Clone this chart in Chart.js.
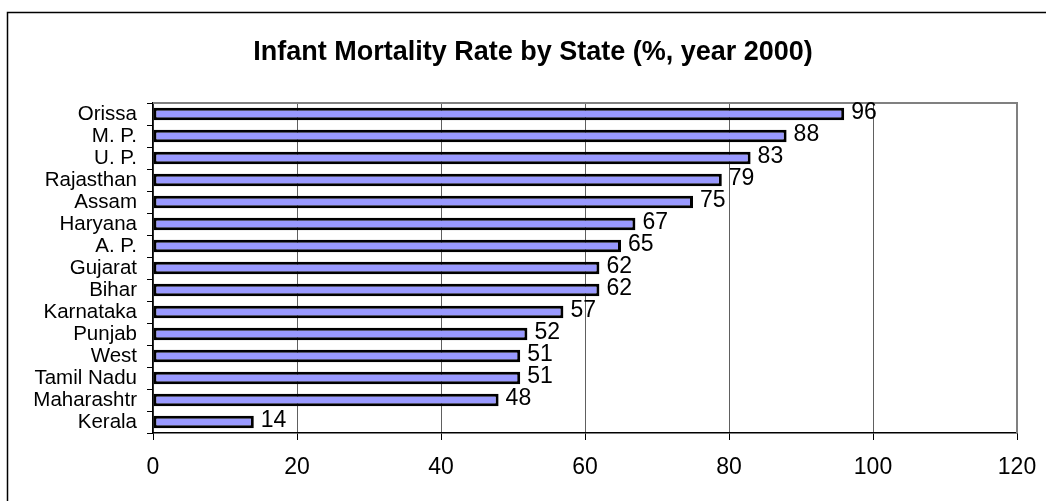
<!DOCTYPE html>
<html>
<head>
<meta charset="utf-8">
<script src="https://cdn.jsdelivr.net/npm/chart.js@4/dist/chart.umd.min.js"></script>
<style>
  html, body { margin: 0; padding: 0; background: #fff; }
  #wrap { width: 1046px; height: 501px; position: relative; }
</style>
</head>
<body>
<div id="wrap"><canvas id="c" width="1046" height="501"></canvas></div>
<script>
const chartTitle = 'Infant Mortality Rate by State (%, year 2000)';
const states = ['Orissa', 'M. P.', 'U. P.', 'Rajasthan', 'Assam', 'Haryana', 'A. P.', 'Gujarat',
                'Bihar', 'Karnataka', 'Punjab', 'West', 'Tamil Nadu', 'Maharashtr', 'Kerala'];
const rates = [96, 88, 83, 79, 75, 67, 65, 62, 62, 57, 52, 51, 51, 48, 14];
const xTicks = [0, 20, 40, 60, 80, 100, 120];

const FONT = '"Liberation Sans", Arial, sans-serif';

// Outer frame, title, plot-area outline and value labels
const decor = {
  id: 'decor',
  beforeDatasetsDraw(chart) {
    const { ctx, chartArea: a } = chart;
    ctx.save();
    ctx.strokeStyle = '#808080';
    ctx.lineWidth = 2;
    ctx.beginPath();
    ctx.moveTo(a.left, a.top);
    ctx.lineTo(a.right, a.top);
    ctx.lineTo(a.right, a.bottom);
    ctx.stroke();
    ctx.restore();
  },
  afterDraw(chart) {
    const { ctx } = chart;
    ctx.save();
    // frame
    ctx.strokeStyle = '#000';
    ctx.lineWidth = 1.5;
    ctx.beginPath();
    ctx.moveTo(7.5, 501);
    ctx.lineTo(7.5, 12.5);
    ctx.lineTo(1046, 12.5);
    ctx.stroke();
    // title
    ctx.fillStyle = '#000';
    ctx.font = 'bold 27px ' + FONT;
    ctx.textAlign = 'center';
    ctx.textBaseline = 'middle';
    ctx.fillText(chartTitle, 533, 53);
    // value labels
    ctx.font = '23px ' + FONT;
    ctx.textAlign = 'left';
    const meta = chart.getDatasetMeta(0);
    meta.data.forEach((bar, i) => {
      ctx.fillText(String(rates[i]), bar.x + 7, bar.y - 1);
    });
    ctx.restore();
  }
};

new Chart(document.getElementById('c'), {
  type: 'bar',
  data: {
    labels: states,
    datasets: [{
      data: rates,
      backgroundColor: '#9999ff',
      borderColor: '#000',
      borderWidth: 3,
      borderSkipped: false,
      categoryPercentage: 1,
      barPercentage: 0.56
    }]
  },
  options: {
    indexAxis: 'y',
    responsive: false,
    animation: false,
    devicePixelRatio: 1,
    layout: { padding: { top: 103, right: 29, left: 0, bottom: 0 } },
    plugins: { legend: { display: false }, tooltip: { enabled: false }, title: { display: false } },
    scales: {
      x: {
        min: 0, max: 120,
        afterBuildTicks(scale) { scale.ticks = xTicks.map(v => ({ value: v })); },
        afterFit(scale) { scale.height = 68; scale.paddingLeft = 0; scale.paddingRight = 0; },
        grid: { color: '#606060', lineWidth: 1, tickLength: 7, tickColor: '#000' },
        border: { color: '#000', width: 1.5 },
        ticks: { color: '#000', font: { family: FONT, size: 23 }, padding: 14, maxRotation: 0 }
      },
      y: {
        afterFit(scale) { scale.width = 153; scale.paddingTop = 0; scale.paddingBottom = 0; },
        grid: { drawOnChartArea: false, tickLength: 6, tickColor: '#000', offset: true },
        border: { color: '#000', width: 1.5 },
        ticks: { color: '#000', font: { family: FONT, size: 20.5 }, padding: 10, autoSkip: false }
      }
    }
  },
  plugins: [decor]
});
</script>
</body>
</html>
